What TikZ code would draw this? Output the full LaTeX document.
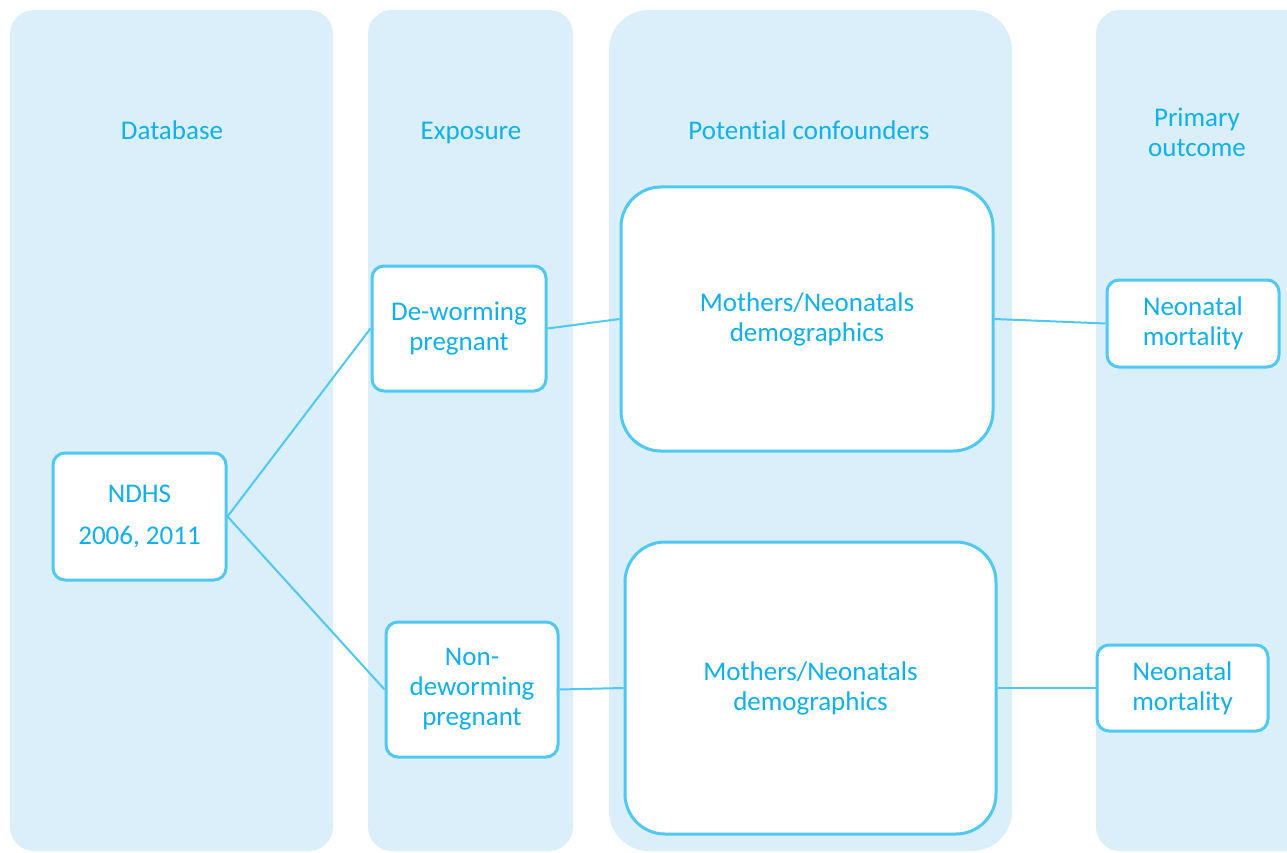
\documentclass[tikz,border=0pt]{standalone}
\usepackage{fontspec}
\setmainfont[Ligatures={NoCommon}]{Carlito}
\definecolor{colfill}{HTML}{DAEFFA}
\definecolor{edge}{HTML}{4FC8F2}
\definecolor{txt}{HTML}{10B0EC}
\begin{document}
\begin{tikzpicture}[x=1pt,y=-1pt,
  column/.style={fill=colfill,draw=none,rounded corners=#1},
  column/.default=24pt,
  head/.style={text=txt,align=center,font=\fontsize{27}{30}\selectfont,anchor=base},
  box/.style={draw=edge,line width=3pt,fill=white,rounded corners=#1,text=txt,align=center,font=\fontsize{27}{30}\selectfont,inner sep=0pt},
  box/.default=12pt,
  link/.style={draw=edge,line width=2pt}]
\useasboundingbox (0,0) rectangle (1287,853);
% columns
\fill[column] (10,10) rectangle (333,851);
\fill[column] (368,10) rectangle (573,851);
\fill[column=40pt] (609,10) rectangle (1012,851);
\fill[column] (1096,10) rectangle (1320,851);
% headers
\node[head] (h1) at (172,140) {Database};
\node[head] (h2) at (471,140) {Exposure};
\node[head] (h3) at (809,140) {Potential confounders};
\node[head,anchor=center] (h4) at (1197,132) {Primary\\outcome};
% boxes
\node[box,minimum width=173pt,minimum height=127pt,font=\fontsize{27}{42}\selectfont] (ndhs) at (139.5,516.5) {NDHS\\2006, 2011};
\node[box,minimum width=174pt,minimum height=125pt] (dew) at (459,328.5) {De-worming\\pregnant};
\node[box,minimum width=172pt,minimum height=135pt] (ndew) at (472,689.5) {Non-\\deworming\\pregnant};
\node[box=40pt,minimum width=372pt,minimum height=264pt] (m1) at (807,319) {Mothers/Neonatals\\demographics};
\node[box=40pt,minimum width=371pt,minimum height=292pt] (m2) at (810.5,688) {Mothers/Neonatals\\demographics};
\node[box,minimum width=172pt,minimum height=87pt] (o1) at (1193,323.5) {Neonatal\\mortality};
\node[box,minimum width=171pt,minimum height=86pt] (o2) at (1182.5,688) {Neonatal\\mortality};
% connectors
\draw[link] (ndhs.east) -- (dew.west);
\draw[link] (ndhs.east) -- (ndew.west);
\draw[link] (dew.east) -- (m1.west);
\draw[link] (ndew.east) -- (m2.west);
\draw[link] (m1.east) -- (o1.west);
\draw[link] (m2.east) -- (o2.west);
\end{tikzpicture}
\end{document}
